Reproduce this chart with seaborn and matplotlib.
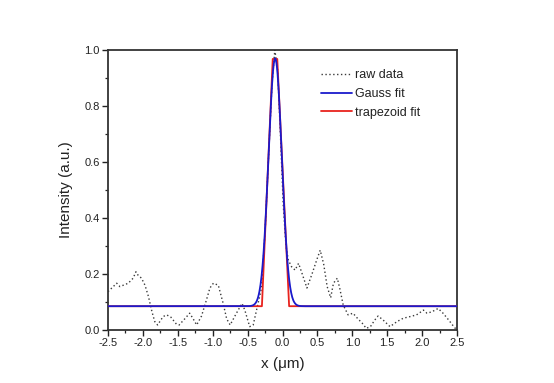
import numpy as np
import pandas as pd
import seaborn as sns
import matplotlib
matplotlib.use("Agg")
import matplotlib.pyplot as plt
from matplotlib.ticker import MultipleLocator

# ---- data ----
raw_x = [-2.5, -2.45, -2.375, -2.33, -2.28, -2.21, -2.14, -2.10, -2.07, -2.02,
         -1.97, -1.92, -1.87, -1.83, -1.79, -1.71, -1.66, -1.60, -1.52, -1.48,
         -1.40, -1.33, -1.28, -1.23, -1.16, -1.09, -1.04, -0.99, -0.92, -0.85,
         -0.80, -0.75, -0.66, -0.58, -0.54, -0.47, -0.42, -0.35, -0.30, -0.25,
         -0.20, -0.15, -0.11, -0.07, -0.03, 0.01, 0.05, 0.083, 0.13, 0.18,
         0.23, 0.28, 0.35, 0.42, 0.49, 0.54, 0.59, 0.64, 0.69, 0.73,
         0.785, 0.82, 0.87, 0.94, 1.01, 1.08, 1.14, 1.20, 1.26, 1.32,
         1.37, 1.44, 1.54, 1.64, 1.73, 1.83, 1.92, 2.02, 2.07, 2.14,
         2.23, 2.30, 2.38, 2.46, 2.5]
raw_y = [0.137, 0.149, 0.167, 0.155, 0.160, 0.167, 0.185, 0.208, 0.196, 0.185,
         0.160, 0.119, 0.065, 0.030, 0.018, 0.048, 0.054, 0.046, 0.021, 0.018,
         0.040, 0.060, 0.040, 0.018, 0.050, 0.107, 0.150, 0.167, 0.160, 0.095,
         0.040, 0.018, 0.060, 0.095, 0.071, 0.012, 0.018, 0.095, 0.150, 0.350,
         0.620, 0.880, 1.000, 0.930, 0.700, 0.450, 0.300, 0.250, 0.226, 0.214,
         0.238, 0.202, 0.150, 0.198, 0.250, 0.285, 0.235, 0.155, 0.115, 0.167,
         0.185, 0.149, 0.089, 0.054, 0.060, 0.040, 0.025, 0.006, 0.012, 0.035,
         0.050, 0.036, 0.012, 0.030, 0.042, 0.048, 0.054, 0.071, 0.060, 0.065,
         0.077, 0.060, 0.036, 0.010, 0.000]

# Gauss fit parameters
gauss_base = 0.085
gauss_amp = 0.885
gauss_center = -0.105
gauss_sigma = 0.095

# trapezoid fit corner points
trap_x = [-2.5, -0.295, -0.14, -0.075, 0.095, 2.5]
trap_y = [0.085, 0.085, 0.968, 0.968, 0.085, 0.085]

x_ticks = [-2.5, -2.0, -1.5, -1.0, -0.5, 0.0, 0.5, 1.0, 1.5, 2.0, 2.5]
y_ticks = [0.0, 0.2, 0.4, 0.6, 0.8, 1.0]

# ---- build frames ----
raw_df = pd.DataFrame({"x": raw_x, "y": raw_y})
gx = np.linspace(-2.5, 2.5, 1001)
gauss_df = pd.DataFrame({"x": gx,
                         "y": gauss_base + gauss_amp * np.exp(-(gx - gauss_center) ** 2 / (2 * gauss_sigma ** 2))})
trap_df = pd.DataFrame({"x": trap_x, "y": trap_y})

sns.set_style("white")
plt.rcParams["font.family"] = ["Liberation Sans", "DejaVu Sans"]

fig = plt.figure(figsize=(5.54, 3.83), dpi=100)
ax = fig.add_axes([108 / 554, 1 - 330 / 383, 349 / 554, 280 / 383])

sns.lineplot(data=raw_df, x="x", y="y", ax=ax, color="#3a3a3a", linestyle=(0, (1, 1.8)),
             linewidth=1.0, label="raw data", sort=False)
sns.lineplot(data=gauss_df, x="x", y="y", ax=ax, color="#1a1acc", linewidth=1.3,
             label="Gauss fit", sort=False, zorder=4)
sns.lineplot(data=trap_df, x="x", y="y", ax=ax, color="#e8231e", linewidth=1.3,
             label="trapezoid fit", sort=False, zorder=3)

ax.set_xlim(-2.5, 2.5)
ax.set_ylim(0.0, 1.0)
ax.set_xticks(x_ticks)
ax.set_xticklabels([f"{v:.1f}" for v in x_ticks])
ax.set_yticks(y_ticks)
ax.set_yticklabels([f"{v:.1f}" for v in y_ticks])
ax.xaxis.set_minor_locator(MultipleLocator(0.25))
ax.yaxis.set_minor_locator(MultipleLocator(0.1))
ax.tick_params(axis="both", which="major", direction="out", length=4, width=1.0,
               labelsize=8, colors="#222222", bottom=True, left=True, top=False, right=False, pad=2)
ax.tick_params(axis="both", which="minor", direction="out", length=2.5, width=0.9,
               bottom=True, left=True, top=False, right=False, colors="#222222")
for s in ax.spines.values():
    s.set_visible(True)
    s.set_color("#333333")
    s.set_linewidth(1.3)

ax.set_xlabel("x (\u03bcm)", fontsize=11, color="#222222", labelpad=6)
ax.set_ylabel("Intensity (a.u.)", fontsize=11, color="#222222", labelpad=8)

leg = ax.legend(loc="upper left", bbox_to_anchor=(0.595, 0.95), frameon=False, fontsize=9,
                handlelength=2.5, handletextpad=0.25, labelspacing=0.55, borderaxespad=0)
for t in leg.get_texts():
    t.set_color("#222222")

fig.savefig("out.png", dpi=100, facecolor="white")
